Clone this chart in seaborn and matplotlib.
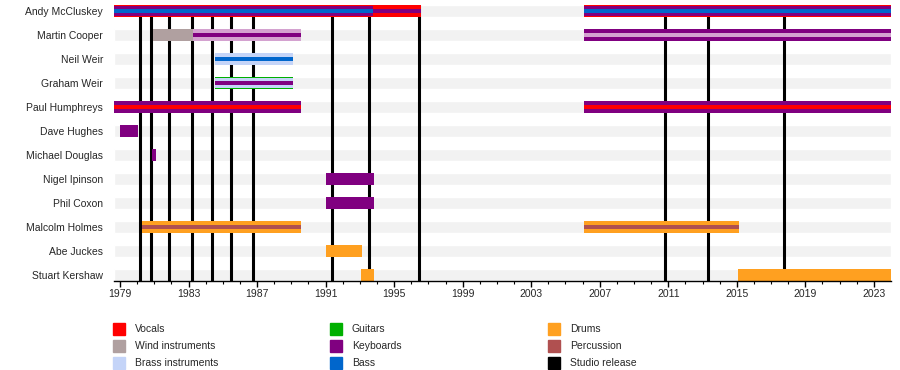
import matplotlib
matplotlib.use("Agg")
import matplotlib.pyplot as plt
from matplotlib.patches import Rectangle
import seaborn as sns

# band members, top to bottom
members = ["Andy McCluskey", "Martin Cooper", "Neil Weir", "Graham Weir",
           "Paul Humphreys", "Dave Hughes", "Michael Douglas", "Nigel Ipinson",
           "Phil Coxon", "Malcolm Holmes", "Abe Juckes", "Stuart Kershaw"]

role_colors = {
    "Vocals": "#ff0000",
    "Wind instruments": "#b0a0a0",
    "Brass instruments": "#c4d4f8",
    "Guitars": "#00b000",
    "Keyboards": "#800080",
    "Bass": "#0066cc",
    "Drums": "#ffa020",
    "Percussion": "#b05050",
    "Studio release": "#000000",
    "Sax": "#d4a2d0",
}
legend_order = ["Vocals", "Wind instruments", "Brass instruments",
                "Guitars", "Keyboards", "Bass",
                "Drums", "Percussion", "Studio release"]

# (member, start, end, roles from outer to inner)
periods = [
    ("Andy McCluskey", 1978.65, 1993.76, ["Vocals", "Keyboards", "Bass"]),
    ("Andy McCluskey", 1993.76, 1996.56, ["Vocals", "Keyboards"]),
    ("Andy McCluskey", 2006.07, 2024.0, ["Vocals", "Keyboards", "Bass"]),
    ("Martin Cooper", 1980.93, 1983.26, ["Wind instruments"]),
    ("Martin Cooper", 1983.26, 1989.56, ["Sax", "Keyboards"]),
    ("Martin Cooper", 2006.07, 2024.0, ["Keyboards", "Sax"]),
    ("Neil Weir", 1984.54, 1989.09, ["Brass instruments", "Bass"]),
    ("Graham Weir", 1984.54, 1989.09, ["Guitars", "Brass instruments", "Keyboards"]),
    ("Paul Humphreys", 1978.65, 1989.56, ["Keyboards", "Vocals"]),
    ("Paul Humphreys", 2006.07, 2024.0, ["Keyboards", "Vocals"]),
    ("Dave Hughes", 1979.0, 1980.05, ["Keyboards"]),
    ("Michael Douglas", 1980.87, 1981.1, ["Keyboards"]),
    ("Nigel Ipinson", 1991.02, 1993.82, ["Keyboards"]),
    ("Phil Coxon", 1991.02, 1993.82, ["Keyboards"]),
    ("Malcolm Holmes", 1980.28, 1989.56, ["Drums", "Percussion"]),
    ("Malcolm Holmes", 2006.07, 2015.11, ["Drums", "Percussion"]),
    ("Abe Juckes", 1991.02, 1993.12, ["Drums"]),
    ("Stuart Kershaw", 1993.06, 1993.82, ["Drums"]),
    ("Stuart Kershaw", 2015.06, 2024.0, ["Drums"]),
]

# studio albums (decimal years)
releases = [1980.18, 1980.83, 1981.88, 1983.22, 1984.39, 1985.49, 1986.78,
            1991.39, 1993.51, 1996.46, 2010.8, 2013.32, 2017.74]

x_start, x_end = 1978.65, 2024.0
major_ticks = list(range(1979, 2024, 4))
minor_ticks = list(range(1979, 2024))

sns.set_style("white")
plt.rcParams["font.family"] = ["Liberation Sans", "DejaVu Sans"]

fig = plt.figure(figsize=(9, 3.7), dpi=100)
ax = fig.add_axes([114 / 900, 1 - 281 / 370, (891 - 114) / 900, 276 / 370])

rows = {m: i for i, m in enumerate(members)}
bar_h = 0.5
layer_heights = {1: [0.5], 2: [0.5, 0.2], 3: [0.5, 0.4, 0.2]}

# background stripes
ax.barh(range(len(members)), x_end - x_start, left=x_start, height=bar_h,
        color="#f2f2f2", zorder=0)

for x in releases:
    ax.axvline(x, color="black", lw=2.2, zorder=1)

for member, start, end, roles in periods:
    hs = layer_heights[len(roles)]
    for k, (role, h) in enumerate(zip(roles, hs)):
        ax.barh(rows[member], end - start, left=start, height=h,
                color=role_colors[role], zorder=2 + k, linewidth=0)

ax.set_xlim(x_start, x_end)
ax.set_ylim(len(members) - 0.75, -0.25)
ax.set_yticks(range(len(members)))
ax.set_yticklabels(members, fontsize=7.5)
ax.tick_params(axis="y", length=0, pad=8)
ax.set_xticks(major_ticks)
ax.set_xticks(minor_ticks, minor=True)
ax.tick_params(axis="x", which="major", direction="out", length=4, width=1,
               color="black", labelsize=7.5, pad=2, bottom=True)
ax.tick_params(axis="x", which="minor", direction="out", length=2, width=0.8,
               color="black", bottom=True)
sns.despine(ax=ax, left=True)
ax.spines["bottom"].set_color("black")
ax.spines["bottom"].set_linewidth(1)
ax.grid(False)

# legend: three columns
col_x = [113, 330, 548]
row_y = [329, 346, 363]
for i, name in enumerate(legend_order):
    cx = col_x[i // 3]
    cy = row_y[i % 3]
    fig.add_artist(Rectangle((cx / 900, 1 - (cy + 6) / 370), 12 / 900, 12 / 370,
                             transform=fig.transFigure, color=role_colors[name]))
    fig.text((cx + 22) / 900, 1 - cy / 370, name, fontsize=7.5, va="center", ha="left")

fig.savefig("out.png", dpi=100)
